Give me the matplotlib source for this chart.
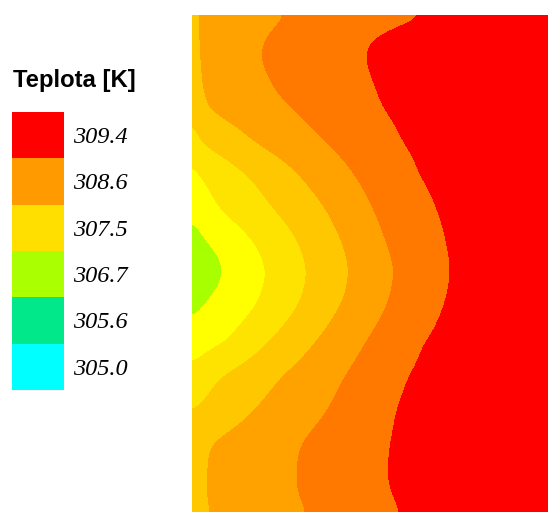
import numpy as np
import matplotlib
matplotlib.use("Agg")
import matplotlib.pyplot as plt

# legend (colour key) of the figure
key_labels = ["309.4", "308.6", "307.5", "306.7", "305.6", "305.0"]
key_colors = ["#ff0000", "#ff9a00", "#ffdf00", "#aaff00", "#00e88a", "#00ffff"]

# contour bands, coolest to warmest
band_colors = ["#4fa84a", "#a8ff00", "#ffff00", "#ffe300", "#ffc700",
               "#ffa200", "#ff7800", "#ff0000"]

# boundary positions (pixel units, x across, y down)
rows_y = [15, 25, 35, 60, 90, 110, 143, 177, 207, 240, 270, 300, 310,
          343, 377, 407, 443, 477, 503, 512]
left_level = [4.6, 4.6, 4.6, 4.5, 4.4, 4.05, 3.5, 2.6, 2.3, 1.5, 0.8, 1.5, 1.8,
              2.5, 3.3, 3.9, 4.5, 4.6, 4.6, 4.5]
nan = np.nan
b1_x = [nan] * 10 + [195] + [nan] * 9
b2_x = [nan] * 9 + [205, 225, 207, 198] + [nan] * 7
b3_x = [nan] * 7 + [202, 217, 254, 268, 260, 255, 228] + [nan] * 6
b4_x = [nan] * 6 + [202, 252, 272, 298, 308, 302, 296, 268, 218, 198] + [nan] * 4
b5_x = [197, 196, 197, 198, 200, 205, 255, 302, 325, 342, 350, 344, 338,
        315, 280, 258, 208, 205, 205, 212]
b6_x = [295, 276, 264, 259, 274, 292, 326, 356, 372, 385, 395, 389, 385,
        365, 344, 330, 300, 296, 300, 316]
b7_x = [470, 392, 370, 363, 375, 382, 402, 419, 435, 445, 450, 445, 441,
        422, 406, 395, 389, 386, 393, 405]
right_level = 8.0
x_left, x_right = 192, 548

bounds = [b1_x, b2_x, b3_x, b4_x, b5_x, b6_x, b7_x]
xs = np.arange(x_left, x_right + 1, 1.0)
ys = np.arange(rows_y[0], rows_y[-1] + 1, 1.0)

zrows = []
for i in range(len(rows_y)):
    px = [x_left]
    pv = [left_level[i]]
    for k, bx in enumerate(bounds, start=1):
        if not np.isnan(bx[i]):
            px.append(bx[i])
            pv.append(k)
    px.append(x_right)
    pv.append(right_level)
    zrows.append(np.interp(xs, px, pv))
zrows = np.array(zrows)
Z = np.array([np.interp(ys, rows_y, zrows[:, j]) for j in range(len(xs))]).T

# smooth out the kinks between the read rows
def blur(a, sigma, axis):
    n = int(3 * sigma)
    pad = [(0, 0), (0, 0)]
    pad[axis] = (n, n)
    ap = np.pad(a, pad, mode="reflect")
    t = np.arange(-n, n + 1)
    k = np.exp(-0.5 * (t / sigma) ** 2)
    k /= k.sum()
    return np.apply_along_axis(lambda v: np.convolve(v, k, mode="valid"), axis, ap)

Z = blur(blur(Z, 10, 0), 5, 1)

fig = plt.figure(figsize=(5.49, 5.14), dpi=100)

ax = fig.add_axes([192 / 549, 1 - 512 / 514, (548 - 192) / 549, (512 - 15) / 514])
ax.contourf(xs, ys, Z, levels=[0, 1, 2, 3, 4, 5, 6, 7, 9], colors=band_colors)
ax.set_xlim(x_left, x_right)
ax.set_ylim(rows_y[-1], rows_y[0])
ax.axis("off")

# colour key
kax = fig.add_axes([12 / 549, 1 - 390 / 514, 52 / 549, 278 / 514])
for i, (lab, col) in enumerate(zip(key_labels, key_colors)):
    kax.bar(0, 1, bottom=i, width=1, align="edge", color=col)
    kax.text(1.17, i + 0.55, lab, va="center", ha="left", fontsize=17.5,
             family="Liberation Serif", style="italic", clip_on=False)
kax.set_xlim(0, 1)
kax.set_ylim(len(key_labels), 0)
kax.axis("off")

fig.text(13 / 549, 1 - 81 / 514, "Teplota [K]", fontsize=17.2, fontweight="bold",
         family="Liberation Sans", va="center", ha="left")

fig.savefig("out.png", dpi=100)
